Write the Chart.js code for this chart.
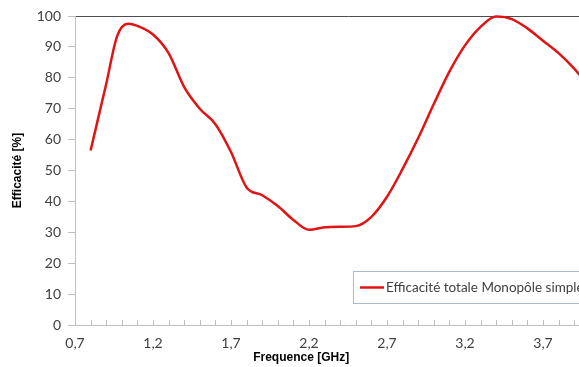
<!DOCTYPE html>
<html>
<head>
<meta charset="utf-8">
<script src="https://cdn.jsdelivr.net/npm/chart.js@4"></script>
<style>
html,body{margin:0;padding:0;background:#fff;overflow:hidden;}
#wrap{position:absolute;left:0;top:0;width:660px;height:367px;}
</style>
</head>
<body>
<div id="wrap"><canvas id="c"></canvas></div>
<script>
// Data
const frequencies = [0.8, 0.9, 0.97, 1.04, 1.1, 1.2, 1.3, 1.4, 1.5, 1.6, 1.7, 1.8, 1.9, 2.0, 2.1, 2.2, 2.3, 2.4, 2.5, 2.6, 2.7, 2.8, 2.9, 3.0, 3.1, 3.2, 3.3, 3.4, 3.5, 3.6, 3.7, 3.8, 3.9, 4.0];
const efficiency = [56.5, 78, 93.5, 97.5, 96.8, 94, 88, 77, 70, 65, 56, 44.5, 42, 38.5, 34, 30.8, 31.6, 31.8, 32, 35, 41.5, 50.5, 60.5, 71.5, 82, 90.5, 96.5, 99.8, 99, 96, 92, 88, 83, 77];
const seriesLabel = 'Efficacité totale Monopôle simple';
const xTitle = 'Frequence [GHz]';
const yTitle = 'Efficacité [%]';
const xMin = 0.7, xMax = 4.2, xLabelStep = 0.5, xMinorStep = 0.1;
const yMin = 0, yMax = 100, yStep = 10;

const points = frequencies.map((f, i) => ({x: f, y: efficiency[i]}));
const fmt = v => v.toFixed(1).replace('.', ',');
const TICK_FONT = {family: 'Lato', size: 14};

const extras = {
  id: 'extras',
  afterDatasetsDraw(chart) {
    const ctx = chart.ctx, x = chart.scales.x, area = chart.chartArea;
    ctx.save();
    // minor tick marks pointing up into the plot
    ctx.strokeStyle = '#bfbfbf';
    ctx.lineWidth = 1;
    x.ticks.forEach(t => {
      const px = Math.round(x.getPixelForValue(t.value)) + 0.5;
      ctx.beginPath();
      ctx.moveTo(px, area.bottom);
      ctx.lineTo(px, area.bottom - 5);
      ctx.stroke();
    });
    // legend box
    const lx = 353.5, ly = 271.5, lw = 320, lh = 32;
    ctx.fillStyle = '#fff';
    ctx.fillRect(lx, ly, lw, lh);
    ctx.strokeStyle = '#a9bccb';
    ctx.strokeRect(lx, ly, lw, lh);
    const ds = chart.data.datasets[0];
    ctx.strokeStyle = ds.borderColor;
    ctx.lineWidth = 2.5;
    ctx.beginPath();
    ctx.moveTo(360, 287.5);
    ctx.lineTo(384, 287.5);
    ctx.stroke();
    ctx.fillStyle = '#404040';
    ctx.font = '13.5px Lato';
    ctx.textBaseline = 'middle';
    ctx.textAlign = 'left';
    ctx.fillText(ds.label, 386, 287.5);
    // x axis title
    ctx.fillStyle = '#000';
    ctx.font = 'bold 12px "Liberation Sans"';
    ctx.textAlign = 'center';
    ctx.fillText(xTitle, x.getPixelForValue(2.15), 358);
    ctx.restore();
  }
};

new Chart(document.getElementById('c'), {
  type: 'line',
  data: {
    datasets: [{
      label: seriesLabel,
      data: points,
      borderColor: '#e01414',
      borderWidth: 2.5,
      pointRadius: 0,
      cubicInterpolationMode: 'monotone',
      fill: false,
      clip: false
    }]
  },
  options: {
    responsive: true,
    maintainAspectRatio: false,
    animation: false,
    layout: {padding: {left: 0, top: 16, right: 39, bottom: 0}},
    plugins: {legend: {display: false}, tooltip: {enabled: false}},
    scales: {
      x: {
        type: 'linear',
        min: xMin, max: xMax,
        afterFit: s => { s.height = 42; },
        grid: {display: true, drawOnChartArea: false, drawTicks: false},
        border: {color: '#bfbfbf', width: 1},
        ticks: {
          stepSize: xMinorStep,
          autoSkip: false,
          maxRotation: 0,
          padding: 10,
          color: '#404040',
          font: TICK_FONT,
          callback: v => {
            const k = (v - xMin) / xLabelStep;
            return Math.abs(k - Math.round(k)) < 1e-6 ? fmt(v) : '';
          }
        }
      },
      y: {
        min: yMin, max: yMax,
        afterFit: s => { s.width = 75; },
        grid: {
          color: c => (c.tick && c.tick.value === yMax) ? '#4d4d4d' : 'rgba(0,0,0,0)',
          tickColor: '#bfbfbf',
          tickLength: 7
        },
        border: {color: '#bfbfbf', width: 1},
        ticks: {stepSize: yStep, padding: 7, color: '#404040', font: TICK_FONT},
        title: {
          display: true,
          text: yTitle,
          color: '#000',
          font: {family: 'Liberation Sans', size: 12, weight: 'bold'},
          padding: {top: 10, bottom: 0}
        }
      }
    }
  },
  plugins: [extras]
});
</script>
</body>
</html>
